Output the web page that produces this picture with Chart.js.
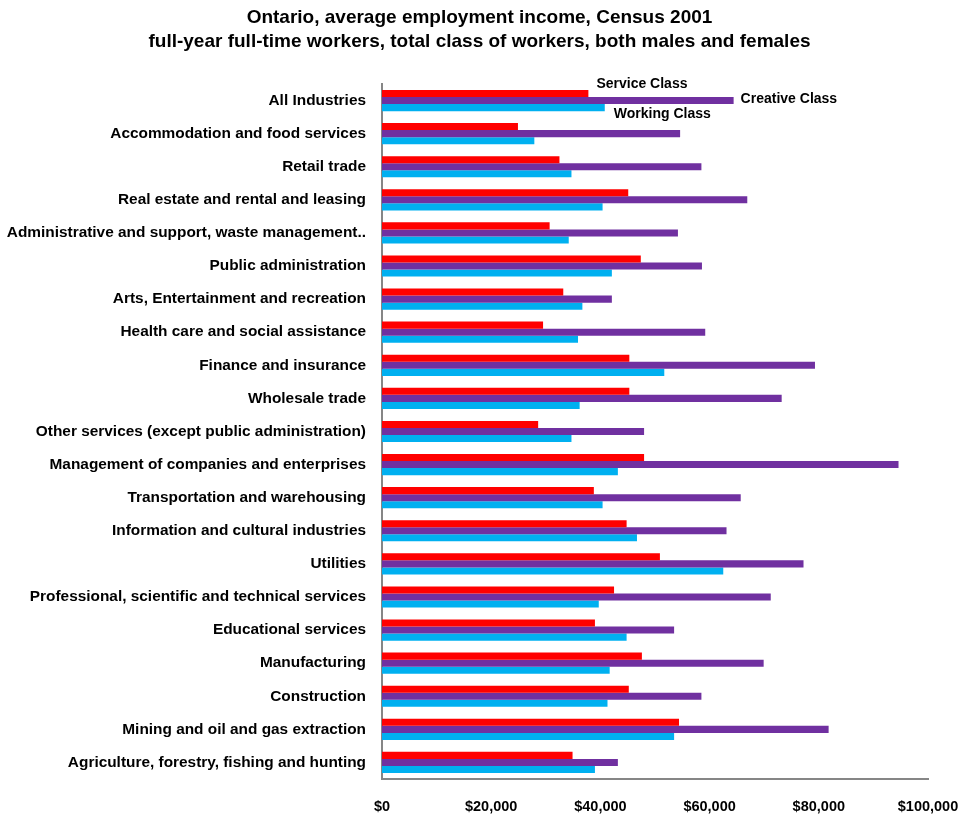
<!DOCTYPE html>
<html lang="en">
<head>
    <meta charset="UTF-8">
    <title>Ontario, average employment income, Census 2001</title>
    <script src="https://cdn.jsdelivr.net/npm/chart.js"></script>
    <style>
        html, body {
            margin: 0;
            padding: 0;
            background: #ffffff;
        }

        .chart-container {
            position: relative;
            width: 959px;
            height: 817px;
        }
    </style>
</head>
<body>

<div class="chart-container">
    <canvas id="incomeChart"></canvas>
</div>

<script>
    // Industries, top to bottom
    const industries = [
        'All Industries',
        'Accommodation and food services',
        'Retail trade',
        'Real estate and rental and leasing',
        'Administrative and support, waste management..',
        'Public administration',
        'Arts, Entertainment and recreation',
        'Health care and social assistance',
        'Finance and insurance',
        'Wholesale trade',
        'Other services (except public administration)',
        'Management of companies and enterprises',
        'Transportation and warehousing',
        'Information and cultural industries',
        'Utilities',
        'Professional, scientific and technical services',
        'Educational services',
        'Manufacturing',
        'Construction',
        'Mining and oil and gas extraction',
        'Agriculture, forestry, fishing and hunting'
    ];

    // Average employment income, dollars
    const serviceClass = [37800, 24900, 32500, 45100, 30700, 47400, 33200, 29500, 45300, 45300,
        28600, 48000, 38800, 44800, 50900, 42500, 39000, 47600, 45200, 54400, 34900];
    const creativeClass = [64400, 54600, 58500, 66900, 54200, 58600, 42100, 59200, 79300, 73200,
        48000, 94600, 65700, 63100, 77200, 71200, 53500, 69900, 58500, 81800, 43200];
    const workingClass = [40800, 27900, 34700, 40400, 34200, 42100, 36700, 35900, 51700, 36200,
        34700, 43200, 40400, 46700, 62500, 39700, 44800, 41700, 41300, 53500, 39000];

    const seriesNames = ['Service Class', 'Creative Class', 'Working Class'];
    const xTicks = [0, 20000, 40000, 60000, 80000, 100000];

    const FONT = "'Liberation Sans', Arial, sans-serif";

    // Series names written beside the first group of bars
    const seriesLabels = {
        id: 'seriesLabels',
        afterDatasetsDraw(chart) {
            const ctx = chart.ctx;
            const offsets = [[8, -9], [7, -1], [9, 7]];
            ctx.save();
            ctx.font = 'bold 14px ' + FONT;
            ctx.fillStyle = '#000000';
            ctx.textAlign = 'left';
            ctx.textBaseline = 'middle';
            seriesNames.forEach((name, i) => {
                const bar = chart.getDatasetMeta(i).data[0];
                ctx.fillText(name, bar.x + offsets[i][0], bar.y + offsets[i][1]);
            });
            ctx.restore();
        }
    };

    const data = {
        labels: industries,
        datasets: [{
            label: seriesNames[0],
            data: serviceClass,
            backgroundColor: '#ff0000'
        }, {
            label: seriesNames[1],
            data: creativeClass,
            backgroundColor: '#7030a0'
        }, {
            label: seriesNames[2],
            data: workingClass,
            backgroundColor: '#00b0f0'
        }]
    };

    const config = {
        type: 'bar',
        data: data,
        options: {
            indexAxis: 'y',
            responsive: true,
            maintainAspectRatio: false,
            animation: false,
            categoryPercentage: 0.64,
            barPercentage: 1.0,
            layout: {
                padding: { top: 4, right: 0, bottom: 0, left: 0 }
            },
            plugins: {
                legend: { display: false },
                tooltip: { enabled: false },
                title: {
                    display: true,
                    text: [
                        'Ontario, average employment income, Census 2001',
                        'full-year full-time workers, total class of workers, both males and females'
                    ],
                    color: '#000000',
                    font: { family: FONT, size: 19, weight: 'bold', lineHeight: 1.263 },
                    padding: { top: 2, bottom: 30 }
                }
            },
            scales: {
                x: {
                    min: 0,
                    max: 100000,
                    afterBuildTicks(scale) {
                        scale.ticks = xTicks.map(v => ({ value: v }));
                    },
                    afterFit(scale) {
                        scale.height = 38;
                        scale.paddingRight = 31;
                    },
                    grid: { display: false, drawTicks: false },
                    border: { color: '#868686', width: 2 },
                    ticks: {
                        color: '#000000',
                        padding: 19,
                        maxRotation: 0,
                        font: { family: FONT, size: 14.5, weight: 'bold' },
                        callback: v => '$' + v.toLocaleString('en-US')
                    }
                },
                y: {
                    afterFit(scale) {
                        scale.width = 382;
                    },
                    grid: { display: false, drawTicks: false },
                    border: { color: '#868686', width: 2 },
                    ticks: {
                        color: '#000000',
                        padding: 16,
                        autoSkip: false,
                        font: { family: FONT, size: 15.4, weight: 'bold' }
                    }
                }
            }
        },
        plugins: [seriesLabels]
    };

    const incomeChart = new Chart(
        document.getElementById('incomeChart'),
        config
    );
</script>

</body>
</html>
